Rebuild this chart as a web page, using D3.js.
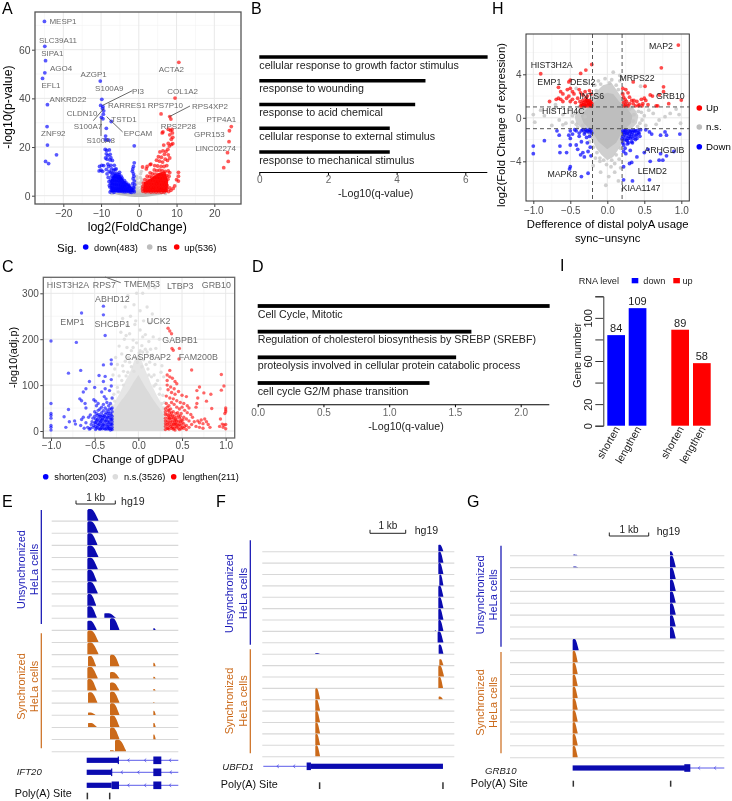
<!DOCTYPE html>
<html><head><meta charset="utf-8">
<script src="https://cdn.jsdelivr.net/npm/d3@7"></script>
<style>html,body{margin:0;padding:0;background:#fff}svg{display:block;filter:blur(.3px)}text{font-family:"Liberation Sans",Arial,sans-serif}</style>
</head><body><svg id="c" width="732" height="801"></svg>
<script>
// ---------- Panel A data
const aDown=[[-25,71.6],[-24.9,61.4],[-24.7,55.5],[-24.9,50.5],[-25.5,48.2],[-24.2,37.4],[-24.3,28.4],[-24.2,20.8],[-21.8,16.8],[-24.7,14.1],[-23.9,13.2],[-10.2,47.1],[-9.8,39.6],[-10.1,37.1],[-9.5,36.6],[-9.3,34.9],[-9.9,32.2],[-9.5,31.6],[-7.3,30.5],[-9.6,35.8],[-9.4,33.5],[-8.6,27.7],[-8.8,24.5],[-8.4,22.9],[-8.9,23],[-7.9,22.8],[-1.2,20.5],[-8.9,19],[-8.5,18.6],[-8.6,17.2],[-8.2,16.5],[-8.8,15.5],[-8.4,15],[-7.6,14.7],[-7,14.5],[-9.8,12.5],[-10.4,12],[-10,10.5],[-9.6,10],[-10.5,10.2],[-9.3,12.4],[-8.2,13],[-8,12],[-7.4,12.5],[-7.2,11],[-6.7,10.4],[-6.3,10.8],[-6,11],[-7.8,10],[-7.4,9.5],[-7,9.2],[-6.5,9],[-6,9.3],[-5.6,8.8],[-5.2,8.6],[-7.2,8],[-6.8,7.6],[-6.3,7.8],[-5.8,7.5],[-5.4,7.3],[-5,7],[-4.6,6.6],[-7.5,6.5],[-7,6.2],[-6.5,6.4],[-6,6],[-5.5,6.1],[-5,5.6],[-4.4,5.4],[-4,5.1],[-7.4,5],[-6.9,4.8],[-6.4,4.7],[-5.9,4.5],[-5.4,4.4],[-4.8,4.2],[-4.3,3.9],[-3.8,3.8],[-3.4,4.2],[-7.6,3.5],[-7.1,3.3],[-6.6,3.2],[-6,3.1],[-5.5,3],[-5,2.9],[-4.5,2.8],[-4,2.7],[-3.5,2.6],[-3,3],[-2.6,3.2],[-7.3,2.2],[-6.8,2],[-6.2,2.1],[-5.7,1.9],[-5.2,1.8],[-4.7,1.8],[-4.2,1.7],[-3.7,1.6],[-3.2,1.7],[-2.7,1.8],[-2.2,2.2],[-1.8,2.6],[-1.5,3.5],[-7.6,1.5],[-6.6,1.4],[-2.3,1.5],[-1.9,1.4],[-1.2,13.5],[-1.4,12],[-1.6,11],[-1.7,10],[-1.4,9],[-1.3,8],[-1.5,7],[-1.2,6],[-1.6,5],[-1.1,4.5],[-1.3,3.2],[-1.4,2.2],[-1.2,1.6],[-7.8,18.8],[-7.6,17],[-7.4,15.6],[-6.5,12.5],[-8.6,10.8],[-8.4,9],[-8.1,7.5],[-7.9,5.8],[-7.8,4.2],[-5.1,9.6],[-4.7,8],[-4.4,7.2],[-3.8,6.2],[-3.4,5.4],[-2.8,4.6],[-2.4,4]];
const aDownCoreX=[-7.5,-7.6,-6.5,-5,-3.8,-2.5,-1.5,-1.3];
const aDownCoreY=[1.5,6,9,8.5,6,4.5,3,1.5];
const aUp=[[10.6,54.8],[9.6,40.1],[5.9,33.6],[8.2,32.5],[8.5,31.5],[6.2,25.8],[6.4,26.2],[8.8,27.2],[7.8,27.3],[8.4,26.8],[8.9,25.8],[8.2,25],[9,24],[8.6,23.2],[7.8,21.5],[8.6,21],[9,21.4],[8.1,20.4],[6.6,20.8],[24.5,28.4],[24,26.7],[23.9,22.2],[23.5,17.7],[23.7,14.1],[22.5,11.5],[10.5,9.6],[10.5,8],[10,6.6],[10.5,6],[9.5,4],[9.1,3],[8.5,2.2],[7.7,19],[7.2,18.2],[6.4,18.4],[5.6,18],[6.8,17],[7.8,16.8],[8.2,15.5],[5.2,16],[6,15.8],[7,15],[7.6,14.5],[4.7,14.6],[5.5,14.2],[6.3,13.8],[3.2,13],[3,12.8],[2.2,12],[1,11.8],[2,11],[4.2,12.4],[5,12.2],[5.9,12],[6.7,12],[7.4,12.4],[4.1,10.6],[4.8,10.3],[5.5,10.5],[6.2,10.3],[7,10],[7.8,10.2],[8.2,9.5],[3,9.4],[3.6,9],[4.3,8.9],[5.1,8.7],[5.8,8.6],[6.6,8.4],[7.4,8.3],[8,8],[2.2,8],[2.9,7.8],[3.5,7.6],[4.2,7.5],[4.9,7.3],[5.6,7.2],[6.3,7.2],[7,7],[7.7,6.8],[1.6,6.6],[2.3,6.4],[3,6.2],[3.7,6.2],[4.4,6],[5.1,5.8],[5.8,6],[6.5,5.7],[7.2,5.6],[1.2,5.2],[1.9,5],[2.6,5],[3.3,4.9],[4,4.7],[4.7,4.8],[5.4,4.6],[6.1,4.5],[6.8,4.4],[7.5,4.2],[1.1,3.8],[1.8,3.7],[2.5,3.6],[3.2,3.6],[3.9,3.4],[4.6,3.5],[5.3,3.3],[6,3.2],[6.7,3.1],[7.4,3],[8.2,3.2],[1,2.8],[1.6,2.6],[2.3,2.5],[3,2.4],[3.7,2.6],[4.4,2.3],[5.1,2.2],[5.8,2.4],[6.5,2.1],[7.2,2],[7.9,1.7],[1.1,1.8],[1.8,1.6],[2.5,1.7],[3.2,1.5],[3.9,1.6],[4.6,1.5],[5.3,1.6],[6,1.4],[6.7,1.5]];
const aUpCoreX=[1.2,1.3,2.5,4,5.5,7,7.8,7.6];
const aUpCoreY=[1.5,5.5,6.5,8,9.5,10,6,1.5];
const aNs=[[0.7,10],[0.5,9],[-0.6,8],[0.4,7.5],[-0.5,7],[0.8,6.6],[-0.8,6],[0.6,5.7],[-0.4,5.2],[0.3,5],[-0.7,4.4],[0.9,4],[0.5,3.5],[-0.3,3.3],[-0.8,3],[0.7,2.7],[-0.5,2.4],[0.3,2.2],[-0.2,1.8],[0.6,1.7],[-0.9,1.8],[0.9,1.5],[-7.2,0.9],[7.1,0.9],[-6.8,1.1],[6.8,1.1]];
const aBandX=[-7,-6,-5,-4,-3,-2,-1,-0.5,0,0.5,1,2,3,4,5,6,7];
const aBandTop=[1.1,1.35,1.45,1.5,1.5,1.5,1.6,1.9,2,1.9,1.6,1.5,1.5,1.5,1.45,1.35,1.1];
const aBandBot=[.9,.5,.2,-.05,-.25,-.4,-.5,-.55,-.55,-.55,-.5,-.4,-.25,-.05,.2,.5,.9];
const aLabels=[["MESP1",189,64],["SLC39A11",174,119],["SIPA1",157,160],["AGO4",183,203],["AZGP1",281,222],["EFL1",153,255],["S100A9",328,265],["PI3",414,274],["ACTA2",514,208],["COL1A2",548,274],["ANKRD22",204,296],["CLDN10",246,338],["RARRES1",381,316],["RPS7P10",496,316],["RPS4XP2",630,317],["TSTD1",372,357],["PTP4A1",664,358],["S100A7",264,379],["RPS2P28",535,378],["ZNF92",160,400],["EPCAM",414,398],["GPR153",628,402],["S100A8",302,421],["LINC02274",647,444]];
const aLinks=[[397,272,308,316],[280,362,312,325],[303,408,303,355],[368,396,320,350],[570,318,508,350]];
// ---------- Panel B / D data
const bTerms=["cellular response to growth factor stimulus","response to wounding","response to acid chemical","cellular response to external stimulus","response to mechanical stimulus"];
const bValues=[6.65,4.84,4.54,3.8,3.8];
const dTerms=["Cell Cycle, Mitotic","Regulation of cholesterol biosynthesis by SREBP (SREBF)","proteolysis involved in cellular protein catabolic process","cell cycle G2/M phase transition"];
const dValues=[2.22,1.625,1.509,1.306];
// ---------- Panel C data
const cDown=[[-.65,257],[-.4,272],[-.4,253],[-1,196],[-.71,193],[-.38,208],[-.31,155],[-.31,146],[-.4,144],[-.66,132],[-.8,126],[-.45,121],[-.38,119],[-.31,112],[-.56,108],[-.4,108],[-.6,92],[-.63,85],[-.5,95],[-.38,92],[-.31,98],[-.42,85],[-.33,88],[-.67,70],[-.65,66],[-.51,68],[-.49,65],[-.39,75],[-.37,70],[-.3,72],[-1,60],[-.8,47],[-1,38],[-1,34],[-1,28],[-1,12],[-1,8],[-1,2],[-.85,31],[-.79,20],[-.73,22],[-.72,15],[-.83,8],[-.61,60],[-.6,50],[-.57,30],[-.55,35],[-.63,30],[-.65,25],[-.66,12],[-.62,6],[-.6,18],[-.58,8],[-.56,4],[-.54,14],[-.52,28],[-.5,42],[-.48,55],[-.46,60],[-.44,48],[-.42,40],[-.4,58],[-.38,50],[-.36,62],[-.34,55],[-.32,60],[-.3,50],[-.52,8],[-.5,18],[-.5,32],[-.48,6],[-.48,22],[-.48,38],[-.46,12],[-.46,28],[-.46,45],[-.44,4],[-.44,18],[-.44,32],[-.42,8],[-.42,24],[-.42,52],[-.4,14],[-.4,30],[-.4,44],[-.38,4],[-.38,20],[-.38,36],[-.36,10],[-.36,26],[-.36,46],[-.34,6],[-.34,18],[-.34,34],[-.34,42],[-.32,2],[-.32,14],[-.32,26],[-.32,38],[-.3,8],[-.3,20],[-.3,32],[-.3,42],[-.31,48],[-.33,48],[-.35,38],[-.37,15],[-.39,24],[-.41,34],[-.43,12],[-.45,5],[-.47,16],[-.49,26],[-.51,12],[-.53,20],[-.55,6],[-.31,5],[-.33,10],[-.35,15],[-.37,30],[-.39,6],[-.41,18],[-.43,26],[-.45,36],[-.47,8],[-.49,3],[-.31,15],[-.31,25],[-.31,35],[-.33,5],[-.33,20],[-.33,30],[-.35,4],[-.35,10],[-.35,22],[-.35,30],[-.37,5],[-.37,22],[-.37,40],[-.39,12],[-.39,32],[-.41,5],[-.41,12],[-.41,26],[-.43,5],[-.43,20],[-.43,32],[-.45,14],[-.45,22],[-.47,24],[-.47,34],[-.49,10],[-.49,18],[-.3,3],[-.3,14],[-.3,26]];
const cUp=[[.34,224],[.36,218],[.38,212],[.385,180],[.4,176],[.47,180],[.465,157],[.36,132],[.61,133],[.95,123],[.98,98],[.95,89],[.33,122],[.33,110],[.36,118],[.39,115],[.42,108],[.44,103],[.33,100],[.37,96],[.41,92],[.46,86],[.7,96],[.67,88],[.75,83],[.83,80],[.68,72],[.78,65],[.84,49],[.67,60],[.66,52],[1,50],[1,46],[1,42],[.99,38],[.34,90],[.38,84],[.42,80],[.5,78],[.55,75],[.32,76],[.36,72],[.4,70],[.44,66],[.48,62],[.52,60],[.56,55],[.58,50],[.32,60],[.35,55],[.38,62],[.41,58],[.44,52],[.47,48],[.5,52],[.53,45],[.56,40],[.6,36],[.62,30],[.31,48],[.34,44],[.37,48],[.4,42],[.43,38],[.46,34],[.49,38],[.52,30],[.55,26],[.58,22],[.31,36],[.34,30],[.37,34],[.4,28],[.43,24],[.46,20],[.49,24],[.52,16],[.55,12],[.58,8],[.61,14],[.64,20],[.31,22],[.34,18],[.37,22],[.4,14],[.43,10],[.46,6],[.49,12],[.52,6],[.55,3],[.31,10],[.34,6],[.37,10],[.4,4],[.43,16],[.46,12],[.49,5],[.68,22],[.7,18],[.72,24],[.74,16],[.76,26],[.78,20],[.8,14],[.82,8],[.66,10],[.7,8],[.74,6],[.94,26],[.96,15],[.93,10],[.98,13],[1,14],[1,5],[.97,8],[.33,14],[.35,26],[.38,6],[.41,22],[.44,30],[.47,28],[.5,18],[.53,10],[.31,3],[.31,16],[.31,28],[.31,42],[.33,6],[.33,22],[.33,36],[.33,52],[.35,4],[.35,12],[.35,34],[.35,46],[.36,18],[.36,28],[.36,40],[.38,14],[.38,28],[.38,40],[.39,8],[.39,20],[.39,34],[.41,6],[.41,14],[.41,32],[.42,2],[.42,18],[.42,26],[.44,8],[.44,14],[.44,22],[.45,40],[.47,3],[.47,14],[.48,20],[.48,32],[.5,8],[.51,24]];
const cNs=[[-.02,300],[.05,300],[.12,312],[.19,312],[-.12,295],[-.15,270],[-.05,275],[.02,262],[.1,270],[.16,255],[-.18,245],[-.09,250],[.06,240],[.13,235],[-.13,230],[-.04,232],[-.2,215],[-.1,212],[.02,220],[.08,210],[.17,205],[-.16,200],[-.06,198],[.12,195],[.24,200],[-.22,185],[-.13,182],[.04,186],[.2,180],[-.26,160],[-.19,168],[-.08,175],[.01,170],[.1,172],[.16,165],[.23,158],[-.24,145],[-.15,152],[.06,155],[.27,142],[-.27,135],[-.18,142],[.19,145],[.26,128],[-.29,122],[.29,118],[-.03,240],[-.14,208],[.05,205],[.14,178],[-.02,192],[-.11,160],[-.17,130],[-.22,120],[.18,122],[.13,150],[.22,110],[.08,178],[-.04,160],[-.1,150],[.02,175],[.09,145],[-.08,140],[.11,135],[-.14,120],[.15,118],[-.19,110],[.2,102],[-.24,95],[.25,92],[-.28,80],[.28,78],[-.3,70],[.3,62],[-.06,182],[.05,172],[-.01,150],[.04,140],[-.05,130],[-.12,128],[.12,122],[-.17,100],[.18,98],[-.23,85],[.24,80],[-.27,65],[.27,60],[-.29,40],[.29,38],[-.3,20],[.3,15],[-.3,55],[.29,50]];
const cCloudX=[-.31,-.29,-.27,-.25,-.22,-.19,-.17,-.14,-.11,-.08,-.05,-.02,0,.03,.06,.09,.12,.15,.18,.21,.24,.27,.29,.31];
const cCloudTop=[35,50,62,70,80,92,100,112,122,135,152,162,170,158,142,128,115,100,90,78,68,58,48,32];
const cCloudInner=[22,34,46,52,60,68,72,80,88,98,108,116,122,112,102,92,84,74,66,58,50,42,32,20];
const cLabels=[["HIST3H2A",204,104],["RPS7",313,104],["TMEM53",426,101],["LTBP3",541,108],["GRB10",649,104],["ABHD12",337,146],["EMP1",217,214],["SHCBP1",337,221],["UCK2",476,212],["GABPB1",540,269],["CASP8AP2",444,319],["FAM200B",595,319]];
// ---------- Panel H data
const hUp=[[-.9,4.05],[-.5,3.47],[-.52,3.3],[-.36,4.08],[-.29,4.39],[-.21,4.9],[-.66,2.8],[-.63,2.4],[-.6,2.2],[-.54,2.6],[-.5,2.7],[-.47,2.4],[-.52,2],[-.45,2.2],[-.38,2.6],[-.36,2.3],[-.33,2.1],[-.3,2.4],[-.27,2],[-.24,2.5],[-.22,2.2],[-.69,1.7],[-.66,1.8],[-.63,1.7],[-.6,1.5],[-.55,1.8],[-.5,1.5],[-.47,1.7],[-.43,1.4],[-.4,1.8],[-.37,1.5],[-.35,1.3],[-.33,1.6],[-.31,1.2],[-.3,1.5],[-.29,1.1],[-.28,1.3],[-.27,1.6],[-.26,1.1],[-.25,1.3],[-.24,1.2],[-.23,1.5],[-.22,1.1],[-.21,1.3],[-.36,1.1],[-.34,1.1],[-.78,1.5],[-.32,1.4],[-.3,1.1],[-.28,1.6],[-.26,1.4],[-.24,1.6],[-.23,1.2],[-.22,1.4],[-.21,1.1],[-.33,1.2],[-.29,1.8],[.96,6.69],[.73,4.6],[1,1.63],[.35,3.3],[.51,2.9],[.76,2.85],[.76,2.4],[.58,2.1],[.61,2],[.7,2.1],[.21,2.7],[.21,2.2],[.25,2.6],[.22,1.9],[.24,1.7],[.28,2.3],[.3,1.9],[.33,1.6],[.35,1.3],[.22,1.4],[.25,1.2],[.28,1.1],[.3,1.3],[.38,1.1],[.4,1.5],[.43,1.2],[.46,1.7],[.48,1.3],[.5,1.8],[.52,1.6],[.55,1.2],[.66,1.1],[.68,1.1],[.83,1.3],[.23,1.1],[.26,1.5],[.36,1.6],[.42,1.1],[.47,1.1]];
const hDown=[[-1,-2.6],[-1,-3.3],[-.85,-2.1],[-.68,-1.2],[-.65,-1.6],[-.64,-2.6],[-.64,-3.2],[-.55,-3.2],[-.5,-2.5],[-.5,-1.2],[-.52,-1.6],[-.5,-1.9],[-.47,-1.5],[-.44,-1.1],[-.42,-2.5],[-.4,-2.9],[-.38,-1.4],[-.35,-1.2],[-.35,-2.2],[-.33,-3.2],[-.31,-1.5],[-.29,-1.1],[-.28,-1.8],[-.27,-2.3],[-.26,-3.1],[-.25,-1.3],[-.24,-1.7],[-.23,-2.7],[-.22,-1.2],[-.22,-3.5],[-.36,-3.4],[-.31,-3.6],[-.5,-4.5],[-.51,-4.7],[-.35,-5.4],[-.26,-5.1],[-.38,-1.7],[-.42,-1.2],[-.3,-1.3],[-.27,-1.2],[-.24,-1.1],[-.21,-1.4],[-.33,-1.1],[.21,-1.2],[.23,-1.5],[.25,-1.15],[.27,-1.4],[.29,-1.7],[.31,-1.25],[.33,-1.55],[.35,-1.9],[.37,-1.3],[.39,-1.65],[.41,-1.15],[.43,-1.45],[.21,-1.7],[.23,-2],[.25,-1.75],[.27,-2.1],[.29,-1.2],[.31,-1.9],[.33,-2.2],[.36,-1.15],[.38,-2],[.21,-2.3],[.22,-2.5],[.24,-2.8],[.27,-2.4],[.31,-3],[.22,-3.1],[.25,-3.3],[.33,-1.2],[.4,-1.5],[.45,-1.1],[.52,-1.1],[.57,-1.3],[.6,-1.5],[.72,-1.6],[.78,-1.3],[.8,-1.6],[.98,-1.5],[.55,-2.9],[.5,-3.2],[.4,-3.6],[.33,-4.1],[.3,-4.2],[.22,-4.5],[.58,-4],[.7,-3.9],[.75,-3.9],[.8,-3.5],[.9,-3.1],[.72,-3.3],[.22,-5.7],[.57,-5.7],[.34,-5.8],[.22,-1.35],[.24,-1.2],[.26,-1.45],[.28,-1.9],[.3,-1.5],[.32,-1.75],[.34,-1.35],[.36,-1.65],[.38,-1.2],[.4,-1.9],[.42,-1.35],[.26,-2.05],[.29,-2.3],[.34,-2.3],[.44,-1.7],[.2,-1.95]];
const hNs=[[.08,4.2],[-.03,3.6],[-.3,3.3],[.17,3.4],[-.17,3],[.12,3],[-.42,2.7],[.45,2.9],[-.7,1.2],[-.9,.7],[-1,.3],[-.85,.2],[-.72,.8],[-.6,.3],[-.5,.9],[-.43,.4],[-.36,.8],[-.3,.1],[-.42,-.6],[-.56,-.5],[-.75,-.7],[-.65,-.2],[-.98,-.4],[-.33,-.7],[.3,.8],[.36,.3],[.42,.6],[.5,.2],[.56,.7],[.62,.4],[.7,-.2],[.78,.1],[.85,.4],[.97,.3],[.99,-.5],[.93,.8],[.44,-.5],[.52,-.7],[.66,-.6],[.35,-.3],[-.01,-4.3],[-.1,-4],[.05,-4.5],[-.09,-5],[.02,-5.4],[.1,-5],[-.02,-6.2],[.15,-5.8],[-.19,-4.4],[-.16,-3.7],[.16,-3.8],[.18,-4.6],[-.6,-.65],[.17,3.9],[-.12,3.4],[.03,3.2],[.06,3.5],[-.09,3.1],[.15,2.6],[-.15,2.5],[.2,2.2],[-.21,2.1],[.27,1.2],[-.27,1.5],[.33,.95],[-.37,1],[.46,.5],[-.47,.2],[-.47,-.4],[.47,-.2],[.41,-.8],[-.4,-.85],[.3,-1.4],[-.31,-1.3],[.23,-2.1],[-.24,-2.2],[.18,-2.8],[-.19,-2.7],[.12,-3.4],[-.14,-3.2],[.06,-3.9],[-.05,-3.9],[-.1,-3.7],[.1,-4.2]];
const hCloud=[[0,3.1],[.06,3.2],[.12,2.6],[.18,2],[.25,1.6],[.32,1.1],[.38,.7],[.42,.2],[.4,-.5],[.33,-1],[.25,-1.6],[.2,-2.4],[.14,-3],[.08,-3.6],[0,-3.9],[-.08,-3.4],[-.15,-2.8],[-.2,-2.1],[-.27,-1.5],[-.34,-1],[-.42,-.5],[-.44,.1],[-.4,.7],[-.32,1.1],[-.25,1.7],[-.18,2.2],[-.12,2.6],[-.06,3]];
const hCore=[[0,2.3],[.08,2.2],[.16,1.5],[.26,.95],[.34,.2],[.32,-.5],[.2,-1.3],[.12,-2.3],[0,-2.9],[-.12,-2.2],[-.2,-1.3],[-.32,-.5],[-.36,.2],[-.26,1],[-.15,1.6],[-.07,2.1]];
const hLabels=[["MAP2",543,136],["HIST3H2A",215,195],["EMP1",208,246],["DESI2",308,244],["MRPS22",471,232],["INTS6",335,287],["GRB10",571,286],["HIST1H4C",250,331],["ARHGDIB",553,448],["LEMD2",517,511],["MAPK8",247,520],["KIAA1147",483,562]];
// ---------- Panel I data
const iGroups=["down","down","up","up"];
const iCats=["shorten","lengthen","shorten","lengthen"];
const iValues=[84,109,89,58];
const iTicks=[0,20,40,60,80,100,120];
// ---------- Browser track data: [track, startKb, endKb, relHeight]
const peakProfile=[.9,1,1,1,.98,.92,.8,.65,.45,.25,.06];
const ePeaks=[[0,.907,1.186,1],[1,.907,1.186,1],[2,.907,1.16,1],[3,.907,1.186,1],[4,.907,1.169,1],[5,.907,1.144,1],[6,.907,1.169,1],[7,.907,1.127,1],[8,.907,1.144,1],[8,1.339,1.627,.4],[9,.907,1.144,.8],[9,1.483,1.72,1],[9,2.585,2.644,.15],
[10,.907,1.186,1],[11,.907,1.186,1],[12,.924,1.127,.9],[12,1.483,1.72,1],[12,2.585,2.644,.3],[13,.907,1.169,1],[13,1.483,1.72,.55],[13,2.585,2.644,.15],[14,.907,1.144,1],[14,1.483,1.72,.7],[14,2.585,2.644,.15],[15,.924,1.161,.9],[15,1.483,1.72,.95],[15,2.585,2.619,.06],[16,.924,1.11,.2],[16,1.483,1.72,1],[16,2.585,2.644,.35],[17,.924,1.144,.35],[17,1.483,1.72,1],[17,2.585,2.644,.35],[18,1.483,1.72,1],[18,2.585,2.644,.4],[19,1.483,1.61,.1],[19,1.61,1.89,1]];
const fPeaks=[[0,4.935,5.075,.6],[1,4.935,5.075,1],[2,4.935,5.075,1],[3,4.963,5.075,1],[4,4.935,5.075,1],[5,4.935,5.075,1],[6,4.935,5.075,1],[7,4.935,5.075,1],[8,4.915,5.075,1],[9,4.944,5.075,.85],[9,1.486,1.617,.08],[7,4.84,4.86,.1],[10,4.963,5.075,.55],[11,4.935,5.093,1],[12,4.935,5.065,1],[13,4.944,5.065,.25],[13,1.486,1.617,1],[14,1.486,1.617,1],[15,1.486,1.617,1],[16,1.486,1.617,1],[17,1.486,1.617,1],[18,1.486,1.617,1]];
const gPeaks=[[0,4.068,4.153,.35],[0,1.61,1.729,.06],[1,4.068,4.212,1],[1,1.61,1.729,.06],[2,4.068,4.212,1],[3,4.068,4.212,1],[4,4.068,4.212,1],[5,4.068,4.212,1],[6,4.068,4.212,1],[7,4.068,4.212,1],[8,1.593,1.746,1],[9,1.593,1.72,1],[10,1.593,1.72,1],[11,1.593,1.72,1],[12,1.593,1.72,1],[13,1.593,1.72,1],[14,1.593,1.72,1],[15,1.593,1.72,1],[16,1.593,1.72,1],[17,1.593,1.72,1]];
const eTranscripts=[{line:[1.695,3.22],utr:[.89,1.695],exons:[[2.585,2.788]],tick:1.695,arrows:[1.949,2.373,3.008]},{line:[1.525,3.22],utr:[.89,1.525],exons:[[2.585,2.788]],tick:1.525,arrows:[1.78,2.203,3.025]},{line:[1.712,3.22],utr:[.89,1.525],exons:[[1.525,1.712],[2.585,2.788]],arrows:[1.949,2.373,3.008]}];
const fTranscripts=[{line:[.028,1.243],utr:[1.364,5.065],exons:[[1.243,1.364]],arrows:[.43,.888]}];
const gTranscripts=[{line:[4.449,5.449],utr:[1.593,4.449],exons:[[4.432,4.585]],arrows:[4.805,5.212]}];
const ePolyA=[.907,1.475], fPolyA=[1.607,5.065], gPolyA=[1.61,4.085];

// ---------- palette and helpers
const BLUE="#0000ff", RED="#ff0000", TBLUE="#0b0bb0", TORANGE="#cb6a1a", THIN="#4a4ae6";
const svg=d3.select("#c");
function text(s,x,y,o={}){const t=svg.append("text").attr("x",x).attr("y",y).text(s)
  .attr("font-size",o.size||10).attr("fill",o.fill||"#000").attr("text-anchor",o.anchor||"start");
  if(o.style)t.attr("font-style",o.style);
  if(o.rotate!=null)t.attr("transform",`rotate(${o.rotate} ${x} ${y})`);return t;}
function panel(g,o){
  const {x,y,box}=o;
  const G=svg.append("g");
  o.xMinor.forEach(v=>G.append("line").attr("x1",x(v)).attr("x2",x(v)).attr("y1",box[1]).attr("y2",box[3]).attr("stroke","#f2f2f2").attr("stroke-width",.6));
  o.yMinor.forEach(v=>G.append("line").attr("y1",y(v)).attr("y2",y(v)).attr("x1",box[0]).attr("x2",box[2]).attr("stroke","#f2f2f2").attr("stroke-width",.6));
  o.xTicks.forEach(v=>G.append("line").attr("x1",x(v)).attr("x2",x(v)).attr("y1",box[1]).attr("y2",box[3]).attr("stroke","#e8e8e8").attr("stroke-width",1));
  o.yTicks.forEach(v=>G.append("line").attr("y1",y(v)).attr("y2",y(v)).attr("x1",box[0]).attr("x2",box[2]).attr("stroke","#e8e8e8").attr("stroke-width",1));
  const ax=d3.axisBottom(x).tickValues(o.xTicks).tickSize(3).tickFormat(o.xFmt);
  const ay=d3.axisLeft(y).tickValues(o.yTicks).tickSize(3).tickPadding(1.5).tickFormat(o.yFmt);
  const sty=s=>{s.select(".domain").remove();s.selectAll("line").attr("stroke","#444");
    s.selectAll("text").attr("fill","#4d4d4d").attr("font-size",o.tick).attr("font-family","Liberation Sans");};
  svg.append("g").attr("transform",`translate(0,${box[3]})`).call(ax).call(sty).selectAll("text").attr("dy",null).attr("y",o.xPad);
  svg.append("g").attr("transform",`translate(${box[0]},0)`).call(ay).call(sty);
  return G;
}
function frame(box,c,w){svg.append("rect").attr("x",box[0]).attr("y",box[1]).attr("width",box[2]-box[0]).attr("height",box[3]-box[1]).attr("fill","none").attr("stroke",c).attr("stroke-width",w);}
function dots(data,x,y,col,r,op){svg.append("g").selectAll("circle").data(data).join("circle").attr("cx",d=>x(d[0])).attr("cy",d=>y(d[1])).attr("r",r).attr("fill",col).attr("fill-opacity",op);}
function band(xs,tops,bots,x,y,col,op=1){const a=d3.area().x((d,i)=>x(xs[i])).y0((d,i)=>y(bots?bots[i]:0)).y1((d,i)=>y(tops[i]));
  svg.append("path").attr("d",a(xs)).attr("fill",col).attr("fill-opacity",op);}
function labels(list,ox,oy,size,col){list.forEach(l=>text(l[0],ox+l[1]/3,oy+l[2]/3+size*.36,{size,fill:col,anchor:"middle"}));}
function legendDot(x,y,col,r=2.8){svg.append("circle").attr("cx",x).attr("cy",y).attr("r",r).attr("fill",col);}

// ---------- panel letters
[["A",2,14],["B",251,14],["H",492,14],["C",2,272],["D",252,272],["I",560,271],["E",2,507],["F",216,507],["G",467,507]].forEach(l=>text(l[0],l[1],l[2],{size:16}));

// ---------- Panel A
{const box=[35,12,241,204];
 const x=d3.scaleLinear().domain([-20,20]).range([63.3,214.3]);
 const y=d3.scaleLinear().domain([0,60]).range([195.7,49.7]);
 panel(0,{x,y,box,xTicks:[-20,-10,0,10,20],yTicks:[0,20,40,60],xMinor:[-25,-15,-5,5,15],yMinor:[10,30,50,70],tick:10.4,xPad:12.7,xFmt:d3.format("d"),yFmt:d3.format("d")});
 band(aBandX,aBandTop,aBandBot,x,y,"#bdbdbd");
 dots(aNs,x,y,"#c8c8c8",1.7,.8);
 band(aDownCoreX,aDownCoreY,aDownCoreY.map(()=>1.5),x,y,BLUE,.9);
 band(aUpCoreX,aUpCoreY,aUpCoreY.map(()=>1.5),x,y,RED,.9);
 dots(aDown,x,y,BLUE,1.9,.65);
 dots(aUp,x,y,RED,1.9,.65);
 labels(aLabels,0,0,8,"#6b6b6b");
 svg.append("g").selectAll("line").data(aLinks).join("line").attr("x1",d=>d[0]/3).attr("y1",d=>d[1]/3).attr("x2",d=>d[2]/3).attr("y2",d=>d[3]/3).attr("stroke","#444").attr("stroke-width",.8);
 frame(box,"#555",1.3);
 text("log2(FoldChange)",137.3,230.7,{size:12.4,anchor:"middle"});
 text("-log10(p-value)",11.7,107,{size:12.4,anchor:"middle",rotate:-90});
 text("Sig.",57,252,{size:11.5});
 [[85.7,BLUE,"down(483)",94],[149.7,"#bdbdbd","ns",157],[176.7,RED,"up(536)",184.3]].forEach(l=>{legendDot(l[0],247,l[1]);text(l[2],l[3],250.5,{size:9.3});});
}
// ---------- Panels B, D
function terms(names,vals,o){
 const x=d3.scaleLinear().domain([0,o.ref]).range([o.x0,o.xr]);
 svg.append("g").selectAll("rect").data(vals).join("rect").attr("x",x(0)).attr("width",d=>x(d)-x(0)).attr("y",(d,i)=>o.barY(i)-o.h/2).attr("height",o.h).attr("fill","#000");
 names.forEach((n,i)=>text(n,o.x0,o.txtY(i),{size:o.size,fill:"#222"}));
 const g=svg.append("g").attr("transform",`translate(0,${o.axisY})`).call(d3.axisBottom(x).tickValues(o.ticks).tickSize(2.5).tickFormat(o.fmt));
 g.select(".domain").remove();g.selectAll("line").attr("stroke","#000");
 g.selectAll("text").attr("fill","#666").attr("font-size",o.tick).attr("font-family","Liberation Sans").attr("dy",null).attr("y",o.tickY);
 svg.append("line").attr("x1",o.x0).attr("x2",o.xEnd).attr("y1",o.axisY).attr("y2",o.axisY).attr("stroke","#000").attr("stroke-width",1.1);
 text("-Log10(q-value)",o.tx,o.ty,{size:o.size,anchor:"middle",fill:"#222"});
}
terms(bTerms,bValues,{ref:6,x0:259.3,xr:465.3,barY:d3.scaleLinear().domain([0,4]).range([57,152]),txtY:d3.scaleLinear().domain([0,4]).range([68.5,163.5]),h:3.5,size:10.7,ticks:[0,2,4,6],fmt:d3.format("d"),axisY:172.5,xEnd:487.3,tick:10,tickY:10.5,tx:375.7,ty:196.5});
terms(dTerms,dValues,{ref:2,x0:257.7,xr:520.7,barY:d3.scaleLinear().domain([0,3]).range([306,383]),txtY:d3.scaleLinear().domain([0,3]).range([317.7,395]),h:3.8,size:10.7,ticks:[0,.5,1,1.5,2],fmt:d3.format(".1f"),axisY:404.7,xEnd:549.3,tick:10,tickY:11.3,tx:406,ty:430});
// ---------- Panel C
{const box=[43.3,277.3,234.7,438];
 const x=d3.scaleLinear().domain([-1,1]).range([51,225.7]);
 const y=d3.scaleLinear().domain([0,300]).range([431,293.3]);
 panel(0,{x,y,box,xTicks:[-1,-.5,0,.5,1],yTicks:[0,100,200,300],xMinor:[-.75,-.25,.25,.75],yMinor:[50,150,250],tick:10,xPad:11.3,xFmt:d3.format(".1f"),yFmt:d3.format("d")});
 band(cCloudX,cCloudTop,null,x,y,"#e6e6e6");
 band(cCloudX,cCloudInner,null,x,y,"#dadada");
 dots(cNs,x,y,"#dedede",1.7,.9);
 dots(cDown,x,y,BLUE,1.7,.6);
 dots(cUp,x,y,RED,1.7,.6);
 labels(cLabels,0,250,8.9,"#6b6b6b");
 svg.append("line").attr("x1",105).attr("y1",277).attr("x2",120.7).attr("y2",282.7).attr("stroke","#444").attr("stroke-width",.8);
 frame(box,"#666",1.3);
 text("Change of gDPAU",138.3,462.7,{size:11.3,anchor:"middle"});
 text("-log10(adj.p)",16.7,357.5,{size:10.9,anchor:"middle",rotate:-90});
 [[45.7,BLUE,"shorten(203)",54.3],[115.3,"#dcdcdc","n.s.(3526)",124],[173.7,RED,"lengthen(211)",182.7]].forEach(l=>{legendDot(l[0],476.7,l[1]);text(l[2],l[3],479.8,{size:9.2});});
}
// ---------- Panel H
{const box=[526,34,689.3,201];
 const x=d3.scaleLinear().domain([-1,1]).range([533.3,681.3]);
 const y=d3.scaleLinear().domain([-4,4]).range([161.3,74.3]);
 panel(0,{x,y,box,xTicks:[-1,-.5,0,.5,1],yTicks:[-4,0,4],xMinor:[-.75,-.25,.25,.75],yMinor:[-6,-2,2,6],tick:10,xPad:13,xFmt:d=>d3.format(".1f")(d).replace("-","\u2212"),yFmt:d=>String(d).replace("-","\u2212")});
 const outline=d3.line().x(d=>x(d[0])).y(d=>y(d[1])).curve(d3.curveLinearClosed);
 svg.append("path").attr("d",outline(hCloud)).attr("fill","#cfcfcf");
 svg.append("path").attr("d",outline(hCore)).attr("fill","#bebebe");
 dots(hNs,x,y,"#c4c4c4",1.9,.8);
 dots(hUp,x,y,RED,1.9,.7);
 dots(hDown,x,y,BLUE,1.9,.7);
 [[x(-.2),x(-.2),34,201],[x(.2),x(.2),34,201],[526,689.3,y(1),y(1)],[526,689.3,y(-1),y(-1)]].forEach(d=>svg.append("line").attr("x1",d[0]).attr("x2",d[1]).attr("y1",d[2]).attr("y2",d[3]).attr("stroke","#444").attr("stroke-width",.9).attr("stroke-dasharray","4 3"));
 labels(hLabels,480,0,8.8,"#222");
 frame(box,"#333",1);
 text("Defference of distal polyA usage",607.7,228,{size:11.3,anchor:"middle"});
 text("sync\u2212unsync",607.7,241.7,{size:11.3,anchor:"middle"});
 text("log2(Fold Change of expression)",505.3,125,{size:11.3,anchor:"middle",rotate:-90});
 [[108,RED,"Up"],[127,"#bdbdbd","n.s."],[146.7,BLUE,"Down"]].forEach(l=>{legendDot(699.3,l[0],l[1]);text(l[2],706,l[0]+3.3,{size:9.7});});
}
// ---------- Panel I
{const y=d3.scaleLinear().domain([0,120]).range([425.7,296.3]);
 const x=d3.scaleOrdinal().domain(d3.range(4)).range([607.3,628.7,671.3,693]);
 svg.append("g").selectAll("rect").data(iValues).join("rect").attr("x",(d,i)=>x(i)).attr("width",17.7).attr("y",d=>y(d)).attr("height",d=>y(0)-y(d)).attr("fill",(d,i)=>iGroups[i]==="down"?BLUE:RED);
 iValues.forEach((v,i)=>{text(v,x(i)+8.85,y(v)-3,{size:11,anchor:"middle",fill:"#222"});});
 const a=svg.append("g").attr("transform","translate(603.3,0)").call(d3.axisLeft(y).tickValues(iTicks).tickSize(8).tickFormat(d=>[0,20,60,100].includes(d)?d:""));
 a.select(".domain").attr("stroke","#333");a.selectAll("line").attr("stroke","#333");
 a.selectAll("text").attr("x",null).attr("dy",null).attr("text-anchor","middle").attr("font-size",11).attr("fill","#222").attr("font-family","Liberation Sans").attr("transform","translate(-11,0) rotate(-90)");
 text("Gene number",580.7,355.3,{size:10.6,anchor:"middle",rotate:-90,fill:"#222"});
 iCats.forEach((c,i)=>text(c,x(i)+13,429,{size:10.6,anchor:"end",rotate:-60,fill:"#222"}));
 text("RNA level",578.7,284,{size:9.2,fill:"#222"});
 svg.append("rect").attr("x",631.7).attr("y",278).attr("width",6.6).attr("height",5.3).attr("fill",BLUE);
 text("down",643.3,284,{size:9.2,fill:"#222"});
 svg.append("rect").attr("x",673.3).attr("y",278).attr("width",6.6).attr("height",5.3).attr("fill",RED);
 text("up",682.5,284,{size:9.2,fill:"#222"});
}
// ---------- Browser panels
function browser(o){
 const x=d3.scaleLinear().domain([0,o.kbSpan]).range([o.x0,o.x1]);
 const y=d3.scaleLinear().domain([0,o.n-1]).range([o.y0,o.y1]);
 d3.range(o.n).forEach(i=>svg.append("line").attr("x1",o.x0).attr("x2",o.x1).attr("y1",y(i)+.4).attr("y2",y(i)+.4).attr("stroke","#d8d8d8").attr("stroke-width",1.1));
 const h=d3.scaleLinear().domain([0,1]).range([0,o.h]);
 o.peaks.forEach(p=>{const xs=d3.scaleLinear().domain([0,peakProfile.length-1]).range([x(p[1]),x(p[2])]);
   const a=d3.area().x((d,i)=>xs(i)).y0(y(p[0])).y1(d=>y(p[0])-h(d*p[3]));
   svg.append("path").attr("d",a(peakProfile)).attr("fill",p[0]<o.nBlue?TBLUE:TORANGE);});
 svg.append("line").attr("x1",o.bar).attr("x2",o.bar).attr("y1",o.bb[0]).attr("y2",o.bb[1]).attr("stroke",TBLUE).attr("stroke-width",1.2);
 svg.append("line").attr("x1",o.bar).attr("x2",o.bar).attr("y1",o.ob[0]).attr("y2",o.ob[1]).attr("stroke",TORANGE).attr("stroke-width",1.2);
 text("Unsynchronized",o.t1,o.cb,{size:11,anchor:"middle",rotate:-90,fill:"#1a1ab8"});
 text("HeLa cells",o.t2,o.cb,{size:11,anchor:"middle",rotate:-90,fill:"#1a1ab8"});
 text("Synchronized",o.t1,o.co,{size:11,anchor:"middle",rotate:-90,fill:TORANGE});
 text("HeLa cells",o.t2,o.co,{size:11,anchor:"middle",rotate:-90,fill:TORANGE});
 const sb=o.sb;
 svg.append("path").attr("d",`M${sb[0]},${sb[2]-3.5}V${sb[2]}H${sb[1]}V${sb[2]-3.5}`).attr("fill","none").attr("stroke","#222").attr("stroke-width",1);
 text("1 kb",(sb[0]+sb[1])/2,sb[3],{size:10,anchor:"middle",fill:"#222"});
 text("hg19",sb[4],sb[5],{size:10.6,fill:"#222"});
 o.tx.forEach((t,i)=>{const gy=o.gy[i];
  svg.append("line").attr("x1",x(t.line[0])).attr("x2",x(t.line[1])).attr("y1",gy).attr("y2",gy).attr("stroke",THIN).attr("stroke-width",.9);
  svg.append("rect").attr("x",x(t.utr[0])).attr("width",x(t.utr[1])-x(t.utr[0])).attr("y",gy-2.6).attr("height",5.2).attr("fill",TBLUE);
  t.exons.forEach(e=>svg.append("rect").attr("x",x(e[0])).attr("width",x(e[1])-x(e[0])).attr("y",gy-3.8).attr("height",7.6).attr("fill",TBLUE));
  if(t.tick)svg.append("rect").attr("x",x(t.tick)-.6).attr("width",1.2).attr("y",gy-3.8).attr("height",7.6).attr("fill",TBLUE);
  t.arrows.forEach(v=>svg.append("path").attr("d",`M${x(v)+1.2},${gy-1.6}L${x(v)-.8},${gy}L${x(v)+1.2},${gy+1.6}`).attr("fill","none").attr("stroke",THIN).attr("stroke-width",.8));
 });
 text(o.gene,o.geneX,o.geneY,{size:9.6,style:"italic",fill:"#222"});
 text("Poly(A) Site",o.paX,o.paY,{size:10.8,fill:"#111"});
 o.polyA.forEach(v=>svg.append("line").attr("x1",x(v)).attr("x2",x(v)).attr("y1",o.paTick[0]).attr("y2",o.paTick[1]).attr("stroke","#333").attr("stroke-width",1.5));
}
browser({kbSpan:3.22,x0:51.7,x1:178.3,n:20,y0:520.7,y1:751.3,h:11.6,nBlue:10,peaks:ePeaks,bar:41.3,bb:[510,624],ob:[633.3,748.3],t1:25,t2:38.3,cb:569.5,co:686.5,sb:[76,115.3,504,500.7,121,505],tx:eTranscripts,gy:[760.3,772.3,785.3],gene:"IFT20",geneX:16.7,geneY:775.3,paX:14.7,paY:796.7,polyA:ePolyA,paTick:[792.7,799.3]});
browser({kbSpan:5.383,x0:262.3,x1:454.3,n:19,y0:551.3,y1:756.3,h:11,nBlue:10,peaks:fPeaks,bar:250.3,bb:[540.3,644.7],ob:[649.3,753.3],t1:233.3,t2:246.7,cb:593.5,co:701,sb:[370,405.7,533.3,529,414.7,534],tx:fTranscripts,gy:[766.3],gene:"UBFD1",geneX:222.3,geneY:770,paX:220.7,paY:787.7,polyA:fPolyA,paTick:[782.3,789]});
browser({kbSpan:5.449,x0:510,x1:724.3,n:18,y0:555.3,y1:757.3,h:11.4,nBlue:9,peaks:gPeaks,bar:501,bb:[545.7,646.7],ob:[652,753.3],t1:484,t2:497.3,cb:594.8,co:702.4,sb:[609.3,648.7,536,532.7,656.7,535],tx:gTranscripts,gy:[768],gene:"GRB10",geneX:485,geneY:774,paX:470.7,paY:787.3,polyA:gPolyA,paTick:[780.7,786.7]});
</script></body></html>
